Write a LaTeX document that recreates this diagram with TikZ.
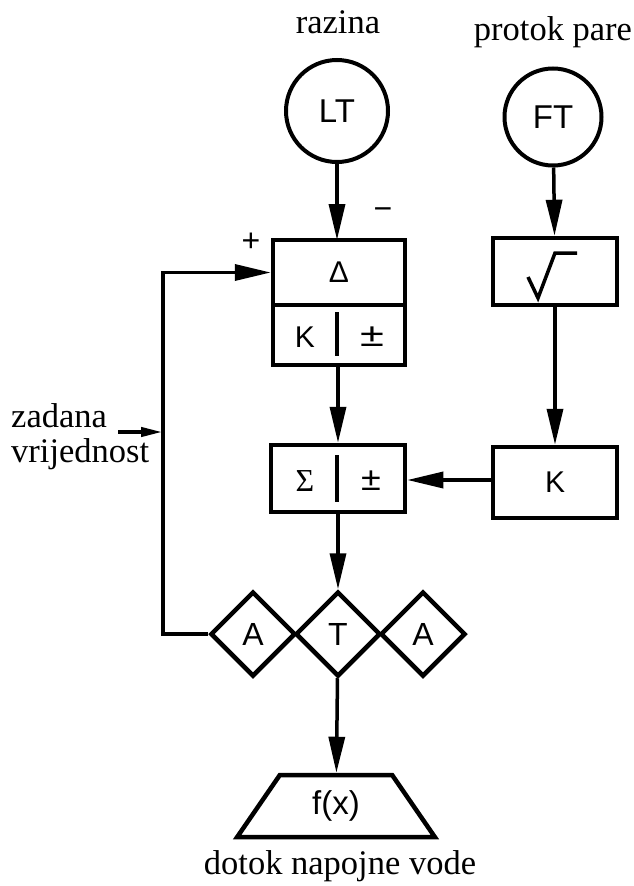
\documentclass[tikz,border=0pt]{standalone}
\usepackage{fontspec}
\setmainfont{Liberation Serif}
\setsansfont{Liberation Sans}
\usetikzlibrary{arrows.meta,shapes.geometric}
\begin{document}
\begin{tikzpicture}[x=1pt,y=-1pt,
  lbl/.style={font=\fontsize{34.5}{34.5}\selectfont, inner sep=0pt},
  sym/.style={font=\sffamily\fontsize{30}{30}\selectfont},
  blk/.style={draw, line width=4.5pt, inner sep=0pt, sym},
  circ/.style={draw, circle, line width=4pt, inner sep=0pt, font=\sffamily\fontsize{33}{33}\selectfont},
  dia/.style={draw, diamond, line width=4.5pt, minimum width=85pt, minimum height=85pt, inner sep=0pt, font=\sffamily\fontsize{32}{32}\selectfont},
  sgn/.style={font=\sffamily\fontsize{32}{32}\selectfont, inner sep=0pt},
  pmsym/.style={font=\sffamily\fontsize{30}{30}\selectfont, inner sep=0pt},
  conn/.style={line width=3.5pt},
  arr/.style={conn, -{Triangle[length=36pt,width=16pt]}},
  sarr/.style={line width=4pt, -{Triangle[length=22pt,width=9pt]}}
]
\useasboundingbox (0,0) rectangle (634,886);

% labels
\node[lbl] (lr) at (338,22) {razina};
\node[lbl] (lp) at (553,32) {protok pare};
\node[lbl, anchor=base west] (lz1) at (11,427) {zadana};
\node[lbl, anchor=base west] (lz2) at (11,462) {vrijednost};
\node[lbl] (ld) at (340,866) {dotok napojne vode};

% transmitters
\node[circ, minimum size=102pt] (LT) at (337,111) {LT};
\node[circ, minimum size=97pt] (FT) at (553,117) {FT};

% difference block
\node[blk, minimum width=132pt, minimum height=65pt] (D) at (339,272.5) {Δ};
\node[blk, minimum width=132pt, minimum height=60pt] (KD) at (339,335) {};
\draw[line width=3.5pt] (337,312) -- (337,356);
\node[sym] (Kt) at (305,337) {K};
\node[pmsym] (pm1) at (372,337) {\scalebox{1.45}[1.1]{±}};

% signs
\node[sgn] (plus) at (251,242) {+};
\node[sgn] (minus) at (383,214) {\textminus};

% sqrt block
\node[blk, minimum width=124pt, minimum height=67pt] (S) at (555,271.5) {};
\draw[line width=3.5pt, line join=miter] (528,277) -- (538,298) -- (555,253) -- (577,253);

% K block
\node[blk, minimum width=124pt, minimum height=71pt] (K2) at (555,482.5) {K};

% sum block
\node[blk, minimum width=134pt, minimum height=67pt] (E) at (338,478.5) {};
\draw[line width=3.5pt] (337,455) -- (337,502);
\node[font=\fontsize{32}{32}\selectfont, inner sep=0pt] (Et) at (305,481) {Σ};
\node[pmsym] (pm2) at (371,481) {\scalebox{1.2}[1.1]{±}};

% diamonds
\node[dia] (A1) at (253,634) {A};
\node[dia] (T) at (338,634) {T};
\node[dia] (A2) at (423,634) {A};

% function
\node[draw, trapezium, trapezium angle=59.5, trapezium stretches=true, line width=4.5pt,
      minimum width=198pt, minimum height=62pt, inner sep=0pt,
      font=\sffamily\fontsize{33}{33}\selectfont] (F) at (336,806) {f(x)};

% connectors
\draw[arr] (LT) -- (337,240);
\draw[arr] (FT) -- (S);
\draw[arr] (S) -- (K2);
\draw[arr] (KD.south -| E.north) -- (E.north);
\draw[arr] (K2.west |- 0,480) -- (E.east |- 0,480);
\draw[arr] (E) -- (T);
\draw[arr] (T) -- (F);
\coordinate (fb) at (163,634);
\draw[arr] (A1.west) -- (fb) |- (D.west);
\coordinate (zs) at (118,432);
\coordinate (zj) at (163,432);
\draw[sarr] (zs) -- (zj);
\end{tikzpicture}
\end{document}
